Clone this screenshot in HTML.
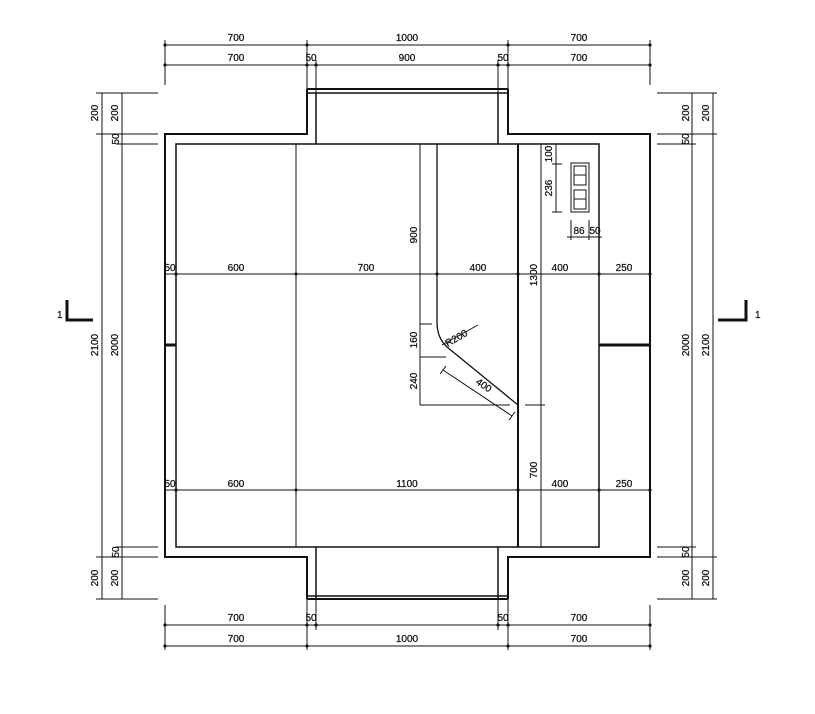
<!DOCTYPE html>
<html><head><meta charset="utf-8"><style>
html,body{margin:0;padding:0;background:#fff;}
svg{display:block}
text{font-family:"Liberation Sans",sans-serif;font-size:10px;fill:#111;stroke:#111;stroke-width:0.25;font-stretch:condensed;}
</style></head><body>
<svg width="815" height="714" viewBox="0 0 815 714" xmlns="http://www.w3.org/2000/svg">
<g stroke="#111" fill="none" stroke-width="1">
<line x1="165" y1="45" x2="650" y2="45"/>
<line x1="165" y1="65" x2="650" y2="65"/>
<line x1="165" y1="40" x2="165" y2="85"/>
<line x1="307" y1="40" x2="307" y2="89"/>
<line x1="316" y1="60" x2="316" y2="93"/>
<line x1="498" y1="60" x2="498" y2="93"/>
<line x1="508" y1="40" x2="508" y2="89"/>
<line x1="650" y1="40" x2="650" y2="85"/>
<line x1="165" y1="625" x2="650" y2="625"/>
<line x1="165" y1="646" x2="650" y2="646"/>
<line x1="165" y1="605" x2="165" y2="650"/>
<line x1="307" y1="599" x2="307" y2="650"/>
<line x1="316" y1="599" x2="316" y2="630"/>
<line x1="498" y1="599" x2="498" y2="630"/>
<line x1="508" y1="599" x2="508" y2="650"/>
<line x1="650" y1="605" x2="650" y2="650"/>
<line x1="102" y1="93" x2="102" y2="599"/>
<line x1="122" y1="93" x2="122" y2="599"/>
<line x1="96" y1="93" x2="158" y2="93"/>
<line x1="96" y1="134" x2="158" y2="134"/>
<line x1="116" y1="144" x2="158" y2="144"/>
<line x1="116" y1="547" x2="158" y2="547"/>
<line x1="96" y1="557" x2="158" y2="557"/>
<line x1="96" y1="599" x2="158" y2="599"/>
<line x1="692" y1="93" x2="692" y2="599"/>
<line x1="713" y1="93" x2="713" y2="599"/>
<line x1="657" y1="93" x2="717" y2="93"/>
<line x1="657" y1="134" x2="717" y2="134"/>
<line x1="657" y1="144" x2="696" y2="144"/>
<line x1="657" y1="547" x2="696" y2="547"/>
<line x1="657" y1="557" x2="717" y2="557"/>
<line x1="657" y1="599" x2="717" y2="599"/>
<polyline stroke-width="2" points="307,89 307,134 165,134 165,557 307,557 307,599"/>
<polyline stroke-width="2" points="508,89 508,134 650,134 650,557 508,557 508,599"/>
<polyline stroke-width="1.5" points="316,93 316,144 176,144 176,547 316,547 316,599"/>
<polyline stroke-width="1.5" points="498,93 498,144 599,144 599,547 498,547 498,599"/>
<line x1="316" y1="144" x2="498" y2="144" stroke-width="1.5"/>
<line x1="316" y1="547" x2="498" y2="547" stroke-width="1.5"/>
<line x1="307" y1="89" x2="508" y2="89" stroke-width="2"/>
<line x1="307" y1="93" x2="508" y2="93" stroke-width="1.5"/>
<line x1="307" y1="596" x2="508" y2="596" stroke-width="1.5"/>
<line x1="307" y1="599" x2="508" y2="599" stroke-width="2"/>
<line x1="165" y1="345" x2="176" y2="345" stroke-width="3"/>
<line x1="599" y1="345" x2="650" y2="345" stroke-width="3"/>
<line x1="296" y1="144" x2="296" y2="547"/>
<line x1="518" y1="144" x2="518" y2="547" stroke-width="2"/>
<line x1="420" y1="144" x2="420" y2="405"/>
<line x1="541" y1="144" x2="541" y2="547"/>
<path d="M437 144 L437 322 Q437 338 447 347 L518 405" stroke-width="1.3"/>
<line x1="165" y1="274" x2="650" y2="274"/>
<line x1="165" y1="490" x2="650" y2="490"/>
<line x1="420" y1="324" x2="432" y2="324"/>
<line x1="420" y1="357" x2="446" y2="357"/>
<line x1="420" y1="405" x2="510" y2="405"/>
<line x1="525" y1="405" x2="545" y2="405"/>
<line x1="442" y1="345" x2="478" y2="325"/>
<line x1="443" y1="370" x2="512" y2="416"/>
<line x1="440" y1="374" x2="446" y2="366"/>
<line x1="509" y1="420" x2="515" y2="412"/>
<line x1="556" y1="144" x2="556" y2="212"/>
<line x1="552" y1="164" x2="562" y2="164"/>
<line x1="552" y1="212" x2="562" y2="212"/>
<rect x="571" y="163" width="18" height="49"/>
<rect x="574" y="166" width="12" height="19"/>
<line x1="574" y1="175" x2="586" y2="175"/>
<rect x="574" y="190" width="12" height="19"/>
<line x1="574" y1="199" x2="586" y2="199"/>
<line x1="567" y1="237" x2="602" y2="237"/>
<line x1="571" y1="220" x2="571" y2="240"/>
<line x1="589" y1="220" x2="589" y2="240"/>
<polyline stroke-width="3" points="67,300 67,320 93,320"/>
<polyline stroke-width="3" points="746,300 746,320 718,320"/>
</g>
<g fill="#111">
<circle cx="165" cy="45" r="1.6"/><circle cx="307" cy="45" r="1.6"/><circle cx="508" cy="45" r="1.6"/><circle cx="650" cy="45" r="1.6"/>
<circle cx="165" cy="65" r="1.6"/><circle cx="307" cy="65" r="1.6"/><circle cx="316" cy="65" r="1.6"/><circle cx="498" cy="65" r="1.6"/><circle cx="508" cy="65" r="1.6"/><circle cx="650" cy="65" r="1.6"/>
<circle cx="165" cy="625" r="1.6"/><circle cx="307" cy="625" r="1.6"/><circle cx="316" cy="625" r="1.6"/><circle cx="498" cy="625" r="1.6"/><circle cx="508" cy="625" r="1.6"/><circle cx="650" cy="625" r="1.6"/>
<circle cx="165" cy="646" r="1.6"/><circle cx="307" cy="646" r="1.6"/><circle cx="508" cy="646" r="1.6"/><circle cx="650" cy="646" r="1.6"/>
<circle cx="176" cy="274" r="1.6"/><circle cx="296" cy="274" r="1.6"/><circle cx="437" cy="274" r="1.6"/><circle cx="518" cy="274" r="1.6"/><circle cx="599" cy="274" r="1.6"/><circle cx="650" cy="274" r="1.6"/>
<circle cx="176" cy="490" r="1.6"/><circle cx="296" cy="490" r="1.6"/><circle cx="518" cy="490" r="1.6"/><circle cx="599" cy="490" r="1.6"/><circle cx="650" cy="490" r="1.6"/>
</g>
<g text-anchor="middle">
<text x="236" y="41">700</text><text x="407" y="41">1000</text><text x="579" y="41">700</text>
<text x="236" y="61">700</text><text x="311" y="61">50</text><text x="407" y="61">900</text><text x="503" y="61">50</text><text x="579" y="61">700</text>
<text x="236" y="621">700</text><text x="311" y="621">50</text><text x="503" y="621">50</text><text x="579" y="621">700</text>
<text x="236" y="642">700</text><text x="407" y="642">1000</text><text x="579" y="642">700</text>
<text x="170" y="271">50</text><text x="236" y="271">600</text><text x="366" y="271">700</text><text x="478" y="271">400</text><text x="560" y="271">400</text><text x="624" y="271">250</text>
<text x="170" y="487">50</text><text x="236" y="487">600</text><text x="407" y="487">1100</text><text x="560" y="487">400</text><text x="624" y="487">250</text>
<text x="579" y="234" font-size="9">86</text><text x="595" y="234" font-size="9">50</text>
<text x="458" y="341" transform="rotate(-30 458 341)" font-size="9">R200</text>
<text x="482" y="388" transform="rotate(34 482 388)">400</text>
</g>
<g text-anchor="middle">
<text transform="translate(98,113) rotate(-90)">200</text>
<text transform="translate(118,113) rotate(-90)">200</text>
<text transform="translate(119,139) rotate(-90)" font-size="9">50</text>
<text transform="translate(98,345) rotate(-90)">2100</text>
<text transform="translate(118,345) rotate(-90)">2000</text>
<text transform="translate(119,552) rotate(-90)" font-size="9">50</text>
<text transform="translate(98,578) rotate(-90)">200</text>
<text transform="translate(118,578) rotate(-90)">200</text>
<text transform="translate(689,113) rotate(-90)">200</text>
<text transform="translate(709,113) rotate(-90)">200</text>
<text transform="translate(689,139) rotate(-90)" font-size="9">50</text>
<text transform="translate(689,345) rotate(-90)">2000</text>
<text transform="translate(709,345) rotate(-90)">2100</text>
<text transform="translate(689,552) rotate(-90)" font-size="9">50</text>
<text transform="translate(689,578) rotate(-90)">200</text>
<text transform="translate(709,578) rotate(-90)">200</text>
<text transform="translate(417,235) rotate(-90)">900</text>
<text transform="translate(537,275) rotate(-90)">1300</text>
<text transform="translate(537,470) rotate(-90)">700</text>
<text transform="translate(417,340) rotate(-90)">160</text>
<text transform="translate(417,381) rotate(-90)">240</text>
<text transform="translate(552,154) rotate(-90)" font-size="9">100</text>
<text transform="translate(552,188) rotate(-90)">236</text>
</g>
<text x="57" y="318" font-size="10">1</text>
<text x="755" y="318" font-size="9">1</text>
</svg>
</body></html>
